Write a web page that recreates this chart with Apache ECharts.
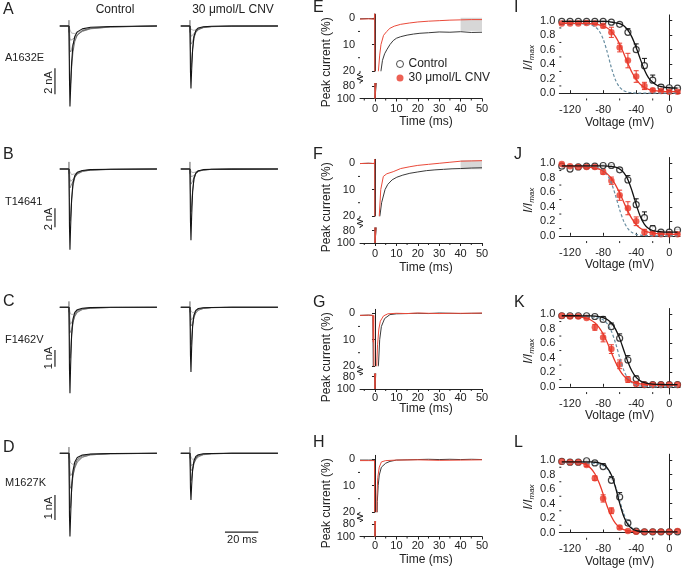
<!DOCTYPE html>
<html><head><meta charset="utf-8">
<script src="https://cdn.jsdelivr.net/npm/echarts@6/dist/echarts.min.js"></script>
<style>html,body{margin:0;padding:0;background:#fff}#c{width:685px;height:570px}</style>
</head><body><div id="c"></div>
<script>
// ================= DATA =================
// Current traces (nA) sampled at traceTime (ms); 5 sweeps per panel, largest first
const traceTime = [-5.5, 0, 0.3, 0.6, 1, 1.6, 2.4, 3.5, 5, 8, 13, 25, 52.8];
const A_ctrl = [
 [0,0,-4.0,-6.2,-4.8,-2.8,-1.5,-0.8,-0.45,-0.22,-0.1,-0.04,0],
 [0,0,-2.5,-4.6,-4.4,-3.2,-2.0,-1.2,-0.7,-0.35,-0.16,-0.06,0],
 [0,0,-0.8,-1.8,-2.0,-1.8,-1.4,-1.0,-0.7,-0.4,-0.2,-0.07,0],
 [0,0,-0.4,-0.9,-1.1,-1.1,-1.0,-0.85,-0.65,-0.42,-0.22,-0.08,0],
 [0,0,-0.1,-0.3,-0.45,-0.55,-0.6,-0.58,-0.5,-0.36,-0.2,-0.07,0]];
const A_cnv = [
 [0,0,-3.5,-4.8,-3.4,-1.8,-0.8,-0.35,-0.15,-0.06,-0.02,0,0],
 [0,0,-1.8,-3.2,-2.8,-1.8,-0.95,-0.5,-0.25,-0.1,-0.04,-0.01,0],
 [0,0,-0.6,-1.4,-1.5,-1.2,-0.8,-0.5,-0.3,-0.13,-0.05,-0.02,0],
 [0,0,-0.3,-0.8,-0.9,-0.8,-0.6,-0.4,-0.25,-0.12,-0.05,-0.02,0],
 [0,0,-0.1,-0.25,-0.35,-0.38,-0.34,-0.27,-0.18,-0.1,-0.04,-0.01,0]];
const B_ctrl = [
 [0,0,-6.0,-8.5,-6.0,-3.2,-1.5,-0.7,-0.35,-0.15,-0.07,-0.03,0],
 [0,0,-3.0,-5.5,-5.0,-3.3,-1.8,-0.9,-0.45,-0.2,-0.09,-0.04,0],
 [0,0,-0.9,-2.0,-2.2,-1.8,-1.3,-0.9,-0.55,-0.28,-0.12,-0.05,0],
 [0,0,-0.4,-1.0,-1.3,-1.3,-1.1,-0.8,-0.5,-0.25,-0.1,-0.04,0],
 [0,0,-0.1,-0.3,-0.5,-0.6,-0.6,-0.5,-0.38,-0.2,-0.09,-0.03,0]];
const B_cnv = [
 [0,0,-5.5,-7.5,-5.0,-2.4,-1.0,-0.4,-0.18,-0.07,-0.03,-0.01,0],
 [0,0,-2.5,-4.5,-3.8,-2.3,-1.1,-0.5,-0.22,-0.09,-0.04,-0.01,0],
 [0,0,-0.7,-1.6,-1.7,-1.3,-0.85,-0.5,-0.27,-0.11,-0.04,-0.01,0],
 [0,0,-0.3,-0.8,-1.0,-0.9,-0.7,-0.45,-0.25,-0.1,-0.04,-0.01,0],
 [0,0,-0.1,-0.2,-0.35,-0.4,-0.37,-0.3,-0.2,-0.1,-0.04,-0.01,0]];
const C_ctrl = [
 [0,0,-3.6,-5.06,-3.4,-1.6,-0.7,-0.3,-0.14,-0.06,-0.02,0,0],
 [0,0,-1.6,-3.0,-2.7,-1.7,-0.9,-0.45,-0.2,-0.08,-0.03,-0.01,0],
 [0,0,-0.6,-1.5,-1.6,-1.3,-0.9,-0.55,-0.3,-0.12,-0.04,-0.01,0],
 [0,0,-0.3,-0.8,-1.0,-0.95,-0.75,-0.5,-0.3,-0.14,-0.05,-0.01,0],
 [0,0,-0.1,-0.25,-0.4,-0.45,-0.42,-0.34,-0.24,-0.12,-0.05,-0.01,0]];
const C_cnv = [
 [0,0,-2.8,-3.8,-2.4,-1.1,-0.45,-0.18,-0.07,-0.03,-0.01,0,0],
 [0,0,-1.2,-2.2,-1.9,-1.1,-0.55,-0.25,-0.1,-0.04,-0.01,0,0],
 [0,0,-0.5,-1.1,-1.2,-0.95,-0.6,-0.35,-0.17,-0.07,-0.02,0,0],
 [0,0,-0.25,-0.6,-0.75,-0.7,-0.5,-0.32,-0.17,-0.07,-0.02,0,0],
 [0,0,-0.08,-0.2,-0.3,-0.33,-0.3,-0.22,-0.14,-0.06,-0.02,0,0]];
const D_ctrl = [
 [0,0,-2.5,-3.33,-2.5,-1.4,-0.7,-0.35,-0.17,-0.07,-0.03,-0.01,0],
 [0,0,-1.2,-2.2,-2.1,-1.5,-0.9,-0.5,-0.25,-0.1,-0.04,-0.01,0],
 [0,0,-0.6,-1.3,-1.4,-1.2,-0.9,-0.6,-0.35,-0.15,-0.06,-0.02,0],
 [0,0,-0.3,-0.7,-0.9,-0.9,-0.75,-0.55,-0.35,-0.16,-0.06,-0.02,0],
 [0,0,-0.1,-0.25,-0.38,-0.45,-0.45,-0.38,-0.28,-0.15,-0.06,-0.02,0]];
const D_cnv = [
 [0,0,-1.4,-1.87,-1.3,-0.65,-0.3,-0.13,-0.06,-0.02,-0.01,0,0],
 [0,0,-0.6,-1.1,-1.0,-0.7,-0.4,-0.2,-0.09,-0.03,-0.01,0,0],
 [0,0,-0.3,-0.7,-0.75,-0.6,-0.4,-0.24,-0.12,-0.05,-0.02,0,0],
 [0,0,-0.15,-0.4,-0.5,-0.48,-0.38,-0.26,-0.15,-0.06,-0.02,0,0],
 [0,0,-0.05,-0.15,-0.22,-0.25,-0.24,-0.19,-0.12,-0.05,-0.02,0,0]];
// stimulus artifacts (nA, at t = 0) and scale bars
const artA = [0.45, -0.5], artB = [0.75, -0.5], artC = [0.35, -0.3], artD = [0.25, -0.2];
const barA = [-3.25, -5.25], barB = [-4.14, -6.14], barC = [-2.51, -3.49], barD = [-1.67, -2.67];
const barTime = [21, 41], barTimeLevel = -3.15;
const scaleLabels = ['2 nA', '2 nA', '1 nA', '1 nA'];
const mutants = ['A1632E', 'T14641', 'F1462V', 'M1627K'];

// Normalized current time courses (%), E-H
const E_ctrl_t = [-7,-3,-0.3,-0.1,0,0.3,1.0,2.0,2.8,3.5,4.5,5.5,7,8.5,10,12,15,18,21,25,30,35,40,45,50];
const E_ctrl_v = [0.2,0.1,0.2,-2,100,100,60,30,20,16,13.5,12,10,8.5,7.6,7,6.4,6,5.7,5.5,5.2,5.3,5.1,5.4,5.3];
const E_cnv_t = [-7,-3,-0.3,-0.1,0,0.3,0.8,1.6,2.2,2.8,4,5.5,7,9,12,16,20,25,30,35,40,45,50];
const E_cnv_v = [0.3,0.2,0.3,-2,100,100,55,20,14,10,6.5,5,3.8,3,2.3,1.8,1.4,1.1,0.9,0.7,0.6,0.5,0.5];
const F_ctrl_t = [-7,-3,-0.3,-0.1,0,0.3,1.2,2.3,3.1,4.7,6,8,10.2,13,16.3,20,24,28,32,36,40,45,50];
const F_ctrl_v = [0.1,0,0.1,-1.5,100,100,50,20,15,10,8,6.3,5.3,4.5,3.8,3.3,2.8,2.5,2.3,2.1,2,1.8,1.7];
const F_cnv_t = [-7,-3,-0.3,-0.1,0,0.3,1.0,2.0,2.7,3.9,5.5,8.5,12,16.3,20,25,30,35,40,45,50];
const F_cnv_v = [0.1,0,0.1,-1.5,100,100,50,20,10,5,4,3.2,2,1.3,0.8,0.4,0,-0.4,-0.8,-0.9,-1.0];
const G_ctrl_t = [-7,-3,-1,-0.2,0,0.2,0.6,1.0,1.6,2.2,3.0,4.5,7,10,15,20,25,30,35,40,45,50];
const G_ctrl_v = [0.8,0.7,0.8,0.8,100,100,60,35,20,10,5,2,0.5,0.2,0.1,0,0.1,-0.1,0,0.1,0,0];
const G_cnv_t = [-7,-3,-1,-0.8,-0.6,-0.2,0,0.2,0.5,0.8,1.2,1.8,2.5,4,6,10,15,20,25,30,35,40,45,50];
const G_cnv_v = [0.8,0.7,0.8,11,0.8,0.8,100,100,50,20,12,6,3,1,0.2,0,0.1,-0.1,0,0.1,0,0,0,-0.1];
const H_ctrl_t = [-7,-3,-0.2,0,0.3,0.7,1.1,1.5,2,3,5,7,10,15,20,25,30,35,40,45,50];
const H_ctrl_v = [0.3,0.3,0.3,100,100,40,16,10,6,3,1.5,0.8,0.3,0.2,0.1,0,0.1,0,0.1,0,0.1];
const H_cnv_t = [-7,-3,-0.2,0,0.3,0.6,0.9,1.3,2,3,5,10,20,30,40,50];
const H_cnv_v = [0.5,0.5,0.5,100,100,40,14,7,3,1,0.5,0.3,0.2,0.4,0.3,0.2];
const E_box = [40, 50, -0.2, 4.8];
const F_box = [40, 50, -1.2, 2.3];
const timeTicks = [0, 10, 20, 30, 40, 50];
const timeMinor = [-5, 5, 15, 25, 35, 45];
const pctTicksUpper = [0, 10, 20];
const pctMinorUpper = [5, 15];
const pctTicksLower = [80, 100];

// Steady-state inactivation, I-L
const V_pts = [-130,-120,-110,-100,-90,-80,-70,-60,-50,-40,-30,-20,-10,0,10];
const V_fit = [-130,-125,-120,-115,-110,-105,-100,-95,-90,-85,-80,-75,-70,-65,-60,-55,-50,-45,-40,-35,-30,-25,-20,-15,-10,-5,0,5,10];
const voltTicks = [-120, -80, -40, 0];
const voltMinor = [-100, -60, -20];
const iTicks = [0, 0.2, 0.4, 0.6, 0.8, 1.0];
const iMinor = [0.1, 0.3, 0.5, 0.7, 0.9];

const I_ctrl = [0.99,0.99,0.99,0.99,0.99,0.99,0.98,0.95,0.84,0.6,0.38,0.18,0.085,0.075,0.07];
const I_ctrl_err = [0.01,0.01,0.01,0.01,0.01,0.01,0.01,0.02,0.05,0.08,0.1,0.07,0.03,0.02,0.01];
const I_cnv = [0.96,0.96,0.96,0.97,0.96,0.93,0.84,0.63,0.45,0.23,0.1,0.04,0.03,0.02,0.02];
const I_cnv_err = [0.01,0.01,0.01,0.01,0.01,0.03,0.07,0.06,0.1,0.08,0.05,0.02,0.01,0.01,0.01];
const I_fitC = [0.99,0.99,0.99,0.99,0.99,0.99,0.99,0.99,0.99,0.99,0.99,0.99,0.98,0.97,0.96,0.93,0.87,0.77,0.63,0.47,0.32,0.21,0.15,0.11,0.09,0.08,0.075,0.072,0.071];
const I_fitR = [0.965,0.965,0.965,0.964,0.964,0.963,0.961,0.958,0.953,0.944,0.927,0.899,0.853,0.78,0.676,0.548,0.41,0.285,0.189,0.122,0.079,0.054,0.039,0.031,0.026,0.023,0.022,0.021,0.02];
const I_dash = [0.96,0.96,0.96,0.96,0.96,0.957,0.953,0.943,0.918,0.862,0.75,0.566,0.352,0.182,0.083,0.035,0.014,0.006,0.002,0.001,0,0,0,0,0,0,0,0,0];

const J_ctrl = [0.96,0.92,0.95,0.96,0.96,0.97,0.97,0.91,0.77,0.43,0.25,0.1,0.05,0.05,0.08];
const J_ctrl_err = [0.01,0.02,0.01,0.01,0.01,0.01,0.01,0.03,0.06,0.08,0.08,0.04,0.02,0.01,0.01];
const J_cnv = [0.99,0.96,0.95,0.95,0.95,0.88,0.76,0.56,0.38,0.2,0.05,0.03,0.02,0.02,0.02];
const J_cnv_err = [0.01,0.01,0.01,0.01,0.01,0.03,0.05,0.07,0.09,0.06,0.04,0.02,0.01,0.01,0.01];
const J_fitC = [0.965,0.965,0.965,0.965,0.965,0.965,0.965,0.965,0.965,0.965,0.965,0.962,0.956,0.946,0.922,0.871,0.774,0.619,0.432,0.267,0.159,0.101,0.073,0.06,0.055,0.052,0.05,0.05,0.05];
const J_fitR = [0.955,0.955,0.954,0.954,0.953,0.951,0.948,0.943,0.934,0.919,0.894,0.854,0.792,0.703,0.59,0.462,0.337,0.233,0.155,0.103,0.069,0.049,0.037,0.03,0.026,0.023,0.022,0.021,0.02];
const J_dash = [0.955,0.955,0.955,0.955,0.955,0.954,0.953,0.95,0.944,0.931,0.902,0.841,0.728,0.556,0.36,0.199,0.098,0.045,0.02,0.009,0.004,0.002,0,0,0,0,0,0,0];

const K_ctrl = [0.98,0.98,0.98,0.98,0.97,0.93,0.83,0.67,0.37,0.11,0.03,0.03,0.03,0.03,0.03];
const K_ctrl_err = [0.01,0.01,0.01,0.01,0.02,0.04,0.05,0.06,0.06,0.04,0.01,0.01,0.01,0.01,0.01];
const K_cnv = [0.98,0.97,0.97,0.95,0.82,0.68,0.52,0.31,0.1,0.04,0.03,0.03,0.03,0.03,0.03];
const K_cnv_err = [0.01,0.01,0.01,0.01,0.04,0.06,0.06,0.06,0.04,0.02,0.01,0.01,0.01,0.01,0.01];
const K_fitC = [0.98,0.98,0.98,0.98,0.98,0.979,0.978,0.977,0.974,0.967,0.954,0.928,0.88,0.796,0.668,0.505,0.342,0.214,0.13,0.082,0.056,0.043,0.036,0.033,0.032,0.031,0.03,0.03,0.03];
const K_fitR = [0.974,0.973,0.972,0.97,0.966,0.958,0.945,0.922,0.883,0.821,0.73,0.61,0.472,0.339,0.229,0.15,0.099,0.068,0.049,0.039,0.033,0.029,0.027,0.026,0.025,0.025,0.025,0.025,0.025];
const K_dash = [0.97,0.97,0.97,0.97,0.97,0.969,0.968,0.966,0.961,0.949,0.924,0.871,0.767,0.604,0.405,0.23,0.116,0.054,0.024,0.011,0.005,0.002,0,0,0,0,0,0,0];

const L_ctrl = [0.98,0.97,0.97,0.99,0.96,0.91,0.72,0.49,0.13,0.02,0.01,0.01,0.01,0.01,0.01];
const L_ctrl_err = [0.01,0.01,0.01,0.01,0.02,0.04,0.05,0.06,0.04,0.01,0.01,0.01,0.01,0.01,0.01];
const L_cnv = [0.98,0.97,0.97,0.93,0.75,0.47,0.3,0.07,0.02,0.01,0.01,0.01,0.01,0.01,0.02];
const L_cnv_err = [0.01,0.01,0.01,0.02,0.03,0.05,0.04,0.02,0.01,0.01,0.01,0.01,0.01,0.01,0.01];
const L_fitC = [0.975,0.975,0.975,0.975,0.975,0.975,0.974,0.973,0.969,0.96,0.94,0.892,0.793,0.621,0.405,0.221,0.108,0.052,0.027,0.017,0.013,0.011,0.01,0.01,0.01,0.01,0.01,0.01,0.01];
const L_fitR = [0.975,0.974,0.972,0.969,0.964,0.952,0.929,0.886,0.81,0.688,0.532,0.358,0.221,0.125,0.07,0.04,0.025,0.017,0.013,0.011,0.01,0.01,0.01,0.01,0.01,0.01,0.01,0.01,0.01];
const L_dash = [0.96,0.96,0.96,0.96,0.96,0.96,0.96,0.957,0.953,0.943,0.922,0.875,0.785,0.634,0.44,0.258,0.132,0.062,0.028,0.012,0.006,0.003,0.001,0,0,0,0,0,0];

// ================= BUILD =================
const FONT = '"Liberation Sans", Arial, Helvetica, sans-serif';
const INK = '#222';
const RED = '#e8392b';
const grids = [], xAxes = [], yAxes = [], series = [], graphics = [];
const pairs = (t, v) => t.map((x, i) => [x, v[i]]);
function addGrid(l, t, w, h) { grids.push({left:l, top:t, width:w, height:h, containLabel:false, outerBoundsMode:'none'}); return grids.length - 1; }
function addX(o) { xAxes.push(Object.assign({type:'value', splitLine:{show:false}}, o)); return xAxes.length - 1; }
function addY(o) { yAxes.push(Object.assign({type:'value', splitLine:{show:false}}, o)); return yAxes.length - 1; }
function text(x, y, s, opt) {
  graphics.push(Object.assign({type:'text', x:x, y:y, silent:true,
    style: Object.assign({text:s, fontFamily:FONT, fontSize:11, fill:INK, align:'center', verticalAlign:'middle'}, (opt && opt.style) || {})},
    opt && opt.rotation ? {rotation: opt.rotation} : {}));
}
// short minor ticks drawn through the axis scales (custom series)
function minorTicks(xi, yi, vals, orient, anchor, len) {
  series.push({type:'custom', coordinateSystem:'cartesian2d', xAxisIndex:xi, yAxisIndex:yi, silent:true, clip:false,
    data: vals.map(v => orient === 'y' ? [anchor, v] : [v, anchor]),
    renderItem:(params, api) => {
      const p = api.coord([api.value(0), api.value(1)]);
      const shape = orient === 'y' ? {x1:p[0], y1:p[1], x2:p[0] + len, y2:p[1]} : {x1:p[0], y1:p[1], x2:p[0], y2:p[1] + len};
      return {type:'line', shape:shape, style:{stroke:INK, lineWidth:1}};
    }});
}

// ---- A-D current traces ----
const rows = [
  {top:13, h:104, ymin:-7, ymax:1, ctrl:A_ctrl, cnv:A_cnv, art:artA, bar:barA, barY:82.5, nameY:58.3},
  {top:159.5, h:104.5, ymin:-10, ymax:1, ctrl:B_ctrl, cnv:B_cnv, art:artB, bar:barB, barY:219, nameY:201.7},
  {top:297.1, h:103.7, ymin:-5.5, ymax:0.6, ctrl:C_ctrl, cnv:C_cnv, art:artC, bar:barC, barY:358, nameY:340},
  {top:443.3, h:100, ymin:-3.6, ymax:0.4, ctrl:D_ctrl, cnv:D_cnv, art:artD, bar:barD, barY:508, nameY:483.3}
];
const sweepCol = ['#151515', '#555', '#777', '#8e8e8e', '#a6a6a6'];
function tracePanel(left, r, sweeps) {
  const g = addGrid(left, r.top, 108.3, r.h);
  const xi = addX({gridIndex:g, min:-10, max:55, show:false});
  const yi = addY({gridIndex:g, min:r.ymin, max:r.ymax, show:false});
  for (let k = sweeps.length - 1; k >= 0; k--) {
    series.push({type:'line', xAxisIndex:xi, yAxisIndex:yi, data:pairs(traceTime, sweeps[k]),
      symbol:'none', silent:true, lineStyle:{color:sweepCol[k], width:k === 0 ? 1.1 : 0.8}});
  }
  series.push({type:'line', xAxisIndex:xi, yAxisIndex:yi, data:[[0, r.art[0]], [0, r.art[1]]],
    symbol:'none', silent:true, lineStyle:{color:'#333', width:0.8}});
  return {xi, yi};
}
rows.forEach((r, i) => {
  const c = tracePanel(52.3, r, r.ctrl);
  series.push({type:'line', xAxisIndex:c.xi, yAxisIndex:c.yi, data:[[-8.4, r.bar[0]], [-8.4, r.bar[1]]],
    symbol:'none', silent:true, lineStyle:{color:INK, width:1.2}});
  const d = tracePanel(173.3, r, r.cnv);
  if (i === 3) {
    series.push({type:'line', xAxisIndex:d.xi, yAxisIndex:d.yi,
      data:[[barTime[0], barTimeLevel], [barTime[1], barTimeLevel]],
      symbol:'none', silent:true, lineStyle:{color:INK, width:1.2}});
  }
  text(49, r.barY, scaleLabels[i], {rotation:Math.PI / 2});
  text(5, r.nameY, mutants[i], {style:{align:'left'}});
});
text(242, 540, '20 ms');
text(115, 10, 'Control', {style:{fontSize:12}});
text(233, 10, '30 \u03bcmol/L CNV', {style:{fontSize:12}});

// ---- E-H time courses with broken y-axis ----
const tPanels = [
  {y0:18.3, p80:86, p100:98.5, lm:5, timeY:122, ct:E_ctrl_t, cv:E_ctrl_v, rt:E_cnv_t, rv:E_cnv_v, box:E_box},
  {y0:163.3, p80:230.5, p100:243, lm:5, timeY:268, ct:F_ctrl_t, cv:F_ctrl_v, rt:F_cnv_t, rv:F_cnv_v, box:F_box},
  {y0:313.3, p80:376.5, p100:389, lm:3, timeY:409, ct:G_ctrl_t, cv:G_ctrl_v, rt:G_cnv_t, rv:G_cnv_v, box:null},
  {y0:459.3, p80:524, p100:536.5, lm:4, timeY:560, ct:H_ctrl_t, cv:H_ctrl_v, rt:H_cnv_t, rv:H_cnv_v, box:null}
];
const axLine = {show:true, lineStyle:{color:INK, width:1}};
const lbl = (vals, extra) => Object.assign({customValues:vals, fontSize:11, color:INK, fontFamily:FONT,
  hideOverlap:false, showMinLabel:true, showMaxLabel:true}, extra || {});
tPanels.forEach(p => {
  const L = 360, W = 122;
  const gu = addGrid(L, p.y0 - 3.95, W, 56.5);
  const pp = (p.p100 - p.p80) / 20;
  const lowTop = p.p80 - 4 * pp;
  const gl = addGrid(L, lowTop, W, p.p100 - lowTop);
  const xu = addX({gridIndex:gu, min:-7, max:50, show:false});
  const yu = addY({gridIndex:gu, position:'left', min:-1.5, max:20, inverse:true, axisLine:axLine,
    axisTick:{show:true, length:3, customValues:pctTicksUpper, lineStyle:{color:INK}},
    axisLabel:lbl(pctTicksUpper, {margin:5})});
  const xl = addX({gridIndex:gl, position:'bottom', min:-7, max:50, axisLine:axLine,
    axisTick:{show:true, length:3, customValues:timeTicks, lineStyle:{color:INK}},
    axisLabel:lbl(timeTicks, {margin:p.lm})});
  const yl = addY({gridIndex:gl, position:'left', min:76, max:100, inverse:true, axisLine:axLine,
    axisTick:{show:true, length:3, customValues:pctTicksLower, lineStyle:{color:INK}},
    axisLabel:lbl(pctTicksLower, {margin:5})});
  [[xu, yu], [xl, yl]].forEach(([xi, yi]) => {
    series.push({type:'line', xAxisIndex:xi, yAxisIndex:yi, data:pairs(p.ct, p.cv), symbol:'none', silent:true,
      lineStyle:{color:'#3a3a3a', width:1}});
    series.push({type:'line', xAxisIndex:xi, yAxisIndex:yi, data:pairs(p.rt, p.rv), symbol:'none', silent:true,
      lineStyle:{color:'#ea4a3a', width:1}});
  });
  minorTicks(xu, yu, pctMinorUpper, 'y', -7, -2);
  minorTicks(xl, yl, timeMinor, 'x', 100, 2);
  if (p.box) {
    series.push({type:'line', xAxisIndex:xu, yAxisIndex:yu, data:[[p.box[0], p.box[2]]], symbol:'none', silent:true, z:10,
      markArea:{silent:true, itemStyle:{color:'#d7d7d7', opacity:1},
        data:[[{coord:[p.box[0], p.box[2]]}, {coord:[p.box[1], p.box[3]]}]]}});
  }
  // axis-break zigzag
  const yA = p.y0 + 52.6, yB = lowTop;
  const m = (yA + yB) / 2;
  graphics.push({type:'polyline', silent:true, shape:{points:[[360, yA], [360, m - 4], [357, m - 2.5], [363, m - 0.5], [357, m + 1.5], [363, m + 3.5], [360, m + 5], [360, yB]]},
    style:{stroke:INK, fill:null, lineWidth:1}});
  text(327, p.y0 + 44, 'Peak current (%)', {rotation:Math.PI / 2, style:{fontSize:12}});
  text(426, p.timeY, 'Time (ms)', {style:{fontSize:12}});
});

// ---- I-L inactivation curves ----
const ivPanels = [
  {y1:20.7, c:I_ctrl, ce:I_ctrl_err, r:I_cnv, re:I_cnv_err, fc:I_fitC, fr:I_fitR, fd:I_dash},
  {y1:163.3, c:J_ctrl, ce:J_ctrl_err, r:J_cnv, re:J_cnv_err, fc:J_fitC, fr:J_fitR, fd:J_dash},
  {y1:314.3, c:K_ctrl, ce:K_ctrl_err, r:K_cnv, re:K_cnv_err, fc:K_fitC, fr:K_fitR, fd:K_dash},
  {y1:460, c:L_ctrl, ce:L_ctrl_err, r:L_cnv, re:L_cnv_err, fc:L_fitC, fr:L_fitR, fd:L_dash}
];
function errSeries(xi, yi, data, color, both) {
  return {type:'custom', coordinateSystem:'cartesian2d', xAxisIndex:xi, yAxisIndex:yi, silent:true,
    encode:{x:0, y:[1, 2]}, data:data,
    renderItem:(params, api) => {
      const v = api.value(0), lo = api.value(1), hi = api.value(2);
      const a = api.coord([v, lo]), b = api.coord([v, hi]);
      const st = {stroke:color, lineWidth:1};
      const ch = [{type:'line', shape:{x1:a[0], y1:a[1], x2:b[0], y2:b[1]}, style:st},
                  {type:'line', shape:{x1:b[0] - 2.5, y1:b[1], x2:b[0] + 2.5, y2:b[1]}, style:st}];
      if (both) ch.push({type:'line', shape:{x1:a[0] - 2.5, y1:a[1], x2:a[0] + 2.5, y2:a[1]}, style:st});
      return {type:'group', children:ch};
    }};
}
ivPanels.forEach(p => {
  const W = 120.7, H = 1.18 * 72.5;
  const g = addGrid(559.3, p.y1 - 0.08 * 72.5, W, H);
  const xi = addX({gridIndex:g, position:'bottom', min:-133, max:13, axisLine:axLine,
    axisTick:{show:true, inside:true, length:3, customValues:voltTicks, lineStyle:{color:INK}},
    axisLabel:lbl(voltTicks, {margin:4}),
    name:'Voltage (mV)', nameLocation:'middle', nameGap:13,
    nameTextStyle:{fontSize:12, color:INK, fontFamily:FONT}});
  const yi = addY({gridIndex:g, position:'left', min:-0.1, max:1.08, axisLine:axLine,
    axisTick:{show:true, inside:true, length:3, customValues:iTicks, lineStyle:{color:INK}},
    axisLabel:lbl(iTicks, {margin:4, formatter:v => Number(v).toFixed(1)}),
    name:'{i|I/I}{s|max}', nameLocation:'middle', nameGap:21, nameRotate:90,
    nameTextStyle:{color:INK, fontFamily:FONT, rich:{
      i:{fontSize:12, fontStyle:'italic', fontFamily:FONT, color:INK},
      s:{fontSize:8, fontStyle:'italic', fontFamily:FONT, color:INK, verticalAlign:'bottom', padding:[6, 0, 0, 0]}}}});
  minorTicks(xi, yi, iMinor, 'y', -133, 2);
  minorTicks(xi, yi, voltMinor, 'x', -0.1, -2);
  series.push({type:'line', xAxisIndex:xi, yAxisIndex:yi, data:pairs(V_fit, p.fd), symbol:'none', silent:true, smooth:0.3,
    lineStyle:{color:'#6a8fa2', width:1.2, type:[3, 2]}});
  series.push({type:'line', xAxisIndex:xi, yAxisIndex:yi, data:pairs(V_fit, p.fr), symbol:'none', silent:true, smooth:0.3,
    lineStyle:{color:RED, width:1.3}});
  series.push({type:'line', xAxisIndex:xi, yAxisIndex:yi, data:pairs(V_fit, p.fc), symbol:'none', silent:true, smooth:0.3,
    lineStyle:{color:'#111', width:1.3}});
  series.push(errSeries(xi, yi, V_pts.map((v, i) => [v, p.c[i], p.c[i] + p.ce[i]]), '#111', false));
  series.push(errSeries(xi, yi, V_pts.map((v, i) => [v, p.r[i] - p.re[i], p.r[i] + p.re[i]]), RED, true));
  series.push({type:'scatter', name:'Control', xAxisIndex:xi, yAxisIndex:yi, data:pairs(V_pts, p.c), symbol:'circle', symbolSize:6,
    silent:true, itemStyle:{color:'#fff', borderColor:'#111', borderWidth:1.2}});
  series.push({type:'scatter', name:'30 \u03bcmol/L CNV', xAxisIndex:xi, yAxisIndex:yi, data:pairs(V_pts, p.r), symbol:'circle', symbolSize:6.5,
    silent:true, itemStyle:{color:RED}});
});

// panel letters
[['A',3,10],['B',3,155],['C',3,302],['D',3,448],['E',313,8],['F',313,155],['G',313,303],['H',313,443],
 ['I',514,8],['J',514,155],['K',514,303],['L',514,443]].forEach(([s, x, y]) =>
  text(x, y, s, {style:{fontSize:16, align:'left'}}));

const chart = echarts.init(document.getElementById('c'), null, {renderer:'canvas'});
chart.setOption({
  animation:false,
  backgroundColor:'#fff',
  textStyle:{fontFamily:FONT},
  grid:grids, xAxis:xAxes, yAxis:yAxes, series:series, graphic:graphics,
  legend:{left:396, top:58, orient:'vertical', itemGap:2, itemWidth:7, itemHeight:7, selectedMode:false, padding:0,
    textStyle:{fontSize:12, color:INK, fontFamily:FONT},
    data:[{name:'Control', icon:'circle', itemStyle:{color:'#fff', borderColor:'#222', borderWidth:1}},
          {name:'30 \u03bcmol/L CNV', icon:'circle', itemStyle:{color:RED, borderWidth:0}}]}
});
</script>
</body></html>
